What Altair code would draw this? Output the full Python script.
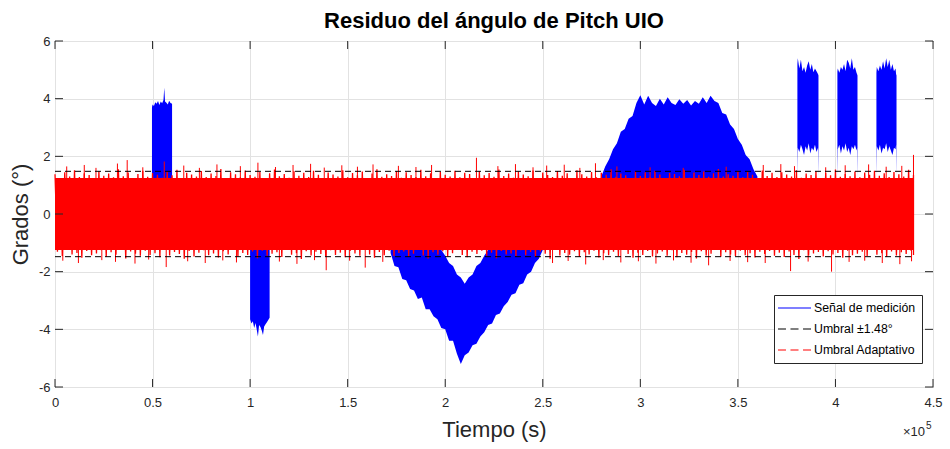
import altair as alt
import pandas as pd

# ---------------- data (time in units of 1e5 s, angle in degrees) ----------------
X_TICKS = [0, 0.5, 1, 1.5, 2, 2.5, 3, 3.5, 4, 4.5]
Y_TICKS = [-6, -4, -2, 0, 2, 4, 6]

TITLE = "Residuo del ángulo de Pitch UIO"
SERIES = ["Señal de medición", "Umbral ±1.48°", "Umbral Adaptativo"]
COLORS = ["#0000FF", "#000000", "#FF0000"]
LINE_SOLID = "M-2.75,0H2.75"
LINE_DASHED = "M-2.75,0H-1.42M-0.67,0H0.67M1.42,0H2.75"
LEGEND_SYMBOLS = [LINE_SOLID, LINE_DASHED, LINE_DASHED]

THRESH = [1.48, -1.48]
THRESH_START = 0.0
THRESH_END = 4.4

# dense (solid-looking) core of the adaptive threshold band
CORE_T = [0.0, 4.4]
CORE_HI = [1.25, 1.25]
CORE_LO = [-1.25, -1.25]

# adaptive threshold oscillation peaks, sampled every 0.025e5 s from 0 to 4.4e5 s
RED_STEP = 0.025
red_hi = [
    1.38, 1.22, 1.45, 1.30, 1.52, 1.28, 1.41, 1.35, 1.25, 1.48,
    1.33, 1.40, 1.27, 1.55, 1.31, 1.44, 1.24, 1.39, 1.50, 1.29,
    1.42, 1.36, 1.26, 1.47, 1.34, 1.53, 1.23, 1.43, 1.37, 1.30,
    1.49, 1.28, 1.40, 1.32, 1.56, 1.25, 1.45, 1.38, 1.27, 1.51,
    1.35, 1.29, 1.46, 1.24, 1.41, 1.54, 1.31, 1.39, 1.26, 1.48,
    1.33, 1.43, 1.28, 1.50, 1.36, 1.22, 1.44, 1.37, 1.30, 1.52,
    1.27, 1.42, 1.34, 1.47, 1.25, 1.40, 1.55, 1.29, 1.38, 1.32,
    1.49, 1.26, 1.45, 1.35, 1.28, 1.53, 1.31, 1.41, 1.24, 1.46,
    1.36, 1.30, 1.50, 1.27, 1.43, 1.39, 1.23, 1.48, 1.34, 1.42,
    1.29, 1.54, 1.32, 1.40, 1.26, 1.47, 1.37, 1.31, 1.51, 1.25,
    1.44, 1.35, 1.28, 1.49, 1.33, 1.41, 1.24, 1.52, 1.38, 1.30,
    1.46, 1.27, 1.43, 1.36, 1.55, 1.29, 1.40, 1.34, 1.25, 1.48,
    1.32, 1.45, 1.28, 1.50, 1.37, 1.23, 1.42, 1.39, 1.31, 1.53,
    1.26, 1.44, 1.35, 1.47, 1.29, 1.41, 1.56, 1.30, 1.38, 1.33,
    1.49, 1.27, 1.46, 1.36, 1.24, 1.51, 1.32, 1.43, 1.28, 1.45,
    1.37, 1.30, 1.52, 1.26, 1.40, 1.35, 1.48, 1.25, 1.42, 1.34,
    1.54, 1.29, 1.39, 1.31, 1.47, 1.27, 1.44, 1.36, 1.50, 1.33,
    1.41, 1.28, 1.46, 1.38, 1.30, 1.53, 1.35,
]
red_lo = [
    -1.31, -1.46, -1.24, -1.40, -1.35, -1.52, -1.28, -1.43, -1.37, -1.26,
    -1.49, -1.33, -1.41, -1.25, -1.54, -1.30, -1.38, -1.45, -1.27, -1.42,
    -1.36, -1.50, -1.23, -1.44, -1.32, -1.39, -1.55, -1.28, -1.47, -1.34,
    -1.26, -1.43, -1.37, -1.51, -1.29, -1.40, -1.24, -1.48, -1.35, -1.42,
    -1.30, -1.53, -1.27, -1.45, -1.38, -1.33, -1.49, -1.25, -1.41, -1.36,
    -1.56, -1.29, -1.44, -1.31, -1.39, -1.47, -1.26, -1.42, -1.34, -1.50,
    -1.28, -1.37, -1.45, -1.23, -1.40, -1.52, -1.32, -1.43, -1.27, -1.46,
    -1.35, -1.30, -1.48, -1.38, -1.25, -1.44, -1.54, -1.33, -1.41, -1.29,
    -1.47, -1.36, -1.24, -1.42, -1.50, -1.31, -1.39, -1.27, -1.45, -1.34,
    -1.53, -1.28, -1.40, -1.37, -1.46, -1.26, -1.43, -1.32, -1.49, -1.30,
    -1.38, -1.55, -1.25, -1.44, -1.35, -1.41, -1.29, -1.48, -1.33, -1.40,
    -1.27, -1.51, -1.36, -1.43, -1.31, -1.46, -1.24, -1.39, -1.52, -1.34,
    -1.42, -1.28, -1.47, -1.37, -1.30, -1.45, -1.26, -1.50, -1.35, -1.41,
    -1.32, -1.54, -1.29, -1.44, -1.38, -1.25, -1.48, -1.33, -1.40, -1.46,
    -1.27, -1.43, -1.36, -1.51, -1.31, -1.39, -1.28, -1.45, -1.34, -1.49,
    -1.30, -1.42, -1.56, -1.26, -1.44, -1.37, -1.32, -1.47, -1.29, -1.40,
    -1.35, -1.52, -1.27, -1.43, -1.38, -1.31, -1.46, -1.25, -1.41, -1.36,
    -1.48, -1.30, -1.44, -1.33, -1.39, -1.27, -1.42,
]

# isolated spikes of the adaptive threshold
spike_up_t = [0.06, 0.15, 0.21, 0.32, 0.37, 0.45, 0.56, 0.66, 0.74, 0.83,
              0.95, 1.04, 1.13, 1.22, 1.31, 1.38, 1.47, 1.55, 1.63, 1.76,
              1.85, 1.93, 2.16, 2.27, 2.36, 2.45, 2.52, 2.61, 2.69, 2.77,
              2.88, 3.05, 3.22, 3.44, 3.63, 3.72, 3.79, 3.95, 4.05, 4.17,
              4.26, 4.34, 4.40]
spike_up_v = [1.65, 1.70, 1.60, 1.75, 1.87, 1.62, 1.82, 1.68, 1.60, 1.72,
              1.66, 1.78, 1.63, 1.70, 1.74, 1.61, 1.69, 1.64, 1.72, 1.67,
              1.63, 1.70, 1.95, 1.66, 1.73, 1.62, 1.68, 1.71, 1.60, 1.76,
              1.65, 1.62, 1.60, 1.64, 1.70, 1.73, 1.66, 1.62, 1.69, 1.72,
              1.64, 1.67, 2.05]
spike_dn_t = [0.04, 0.12, 0.24, 0.31, 0.41, 0.48, 0.57, 0.68, 0.77, 0.86,
              0.93, 1.15, 1.24, 1.33, 1.39, 1.51, 1.59, 1.68, 2.55, 2.63,
              2.72, 2.81, 2.90, 2.99, 3.08, 3.17, 3.26, 3.35, 3.46, 3.55,
              3.64, 3.77, 3.86, 3.98, 4.07, 4.15, 4.24, 4.33, 4.39]
spike_dn_v = [-1.62, -1.70, -1.60, -1.66, -1.72, -1.58, -1.84, -1.64, -1.70, -1.61,
              -1.68, -1.65, -1.73, -1.60, -1.95, -1.62, -1.86, -1.66, -1.70, -1.63,
              -1.75, -1.60, -1.68, -1.64, -1.72, -1.61, -1.69, -1.78, -1.63, -1.67,
              -1.70, -1.98, -1.65, -2.00, -1.66, -1.62, -1.70, -1.74, -1.64]

# measurement signal: fault segments (envelope lower / upper)
A_t = [0.497, 0.500, 0.507, 0.514, 0.521, 0.528, 0.535, 0.542, 0.549, 0.556, 0.560, 0.564, 0.571, 0.578, 0.585, 0.592, 0.600]
A_lo = [1.25, 1.25, 1.25, 1.25, 1.25, 1.25, 1.25, 1.25, 1.25, 1.25, 1.25, 1.25, 1.25, 1.25, 1.25, 1.25, 1.25]
A_hi = [3.70, 3.80, 3.75, 3.88, 3.82, 3.92, 3.78, 3.90, 3.84, 3.95, 4.38, 3.90, 3.86, 3.80, 3.93, 3.85, 3.82]

B_t = [1.000, 1.007, 1.014, 1.021, 1.028, 1.035, 1.040, 1.046, 1.053, 1.060, 1.066, 1.072, 1.079, 1.086, 1.093, 1.100]
B_lo = [-3.65, -3.80, -3.72, -3.95, -3.78, -4.05, -4.25, -3.85, -3.92, -4.05, -4.20, -3.90, -3.82, -3.75, -3.68, -3.60]
B_hi = [-1.25, -1.25, -1.25, -1.25, -1.25, -1.25, -1.25, -1.25, -1.25, -1.25, -1.25, -1.25, -1.25, -1.25, -1.25, -1.25]

C_t = [1.72, 1.74, 1.76, 1.78, 1.80, 1.82, 1.84, 1.86, 1.88, 1.90,
       1.92, 1.94, 1.96, 1.98, 2.00, 2.02, 2.04, 2.06, 2.08, 2.10,
       2.12, 2.14, 2.16, 2.18, 2.20, 2.22, 2.24, 2.26, 2.28, 2.30,
       2.32, 2.34, 2.36, 2.38, 2.40, 2.42, 2.44, 2.46, 2.48, 2.50]
C_lo = [-1.35, -1.80, -1.85, -2.25, -2.30, -2.60, -2.65, -2.95, -2.90, -3.30,
        -3.30, -3.55, -3.65, -3.95, -4.00, -4.40, -4.40, -4.85, -5.20, -4.90,
        -4.80, -4.55, -4.50, -4.25, -4.10, -3.85, -3.80, -3.50, -3.45, -3.20,
        -3.05, -2.80, -2.75, -2.45, -2.40, -2.10, -2.00, -1.70, -1.55, -1.25]
C_hi = [-1.25, -1.25, -1.25, -1.25, -1.25, -1.25, -1.25, -1.25, -1.25, -1.25,
        -1.25, -1.25, -1.25, -1.25, -1.45, -1.70, -1.80, -2.10, -2.20, -2.42,
        -2.20, -2.10, -1.80, -1.70, -1.45, -1.25, -1.25, -1.25, -1.25, -1.25,
        -1.25, -1.25, -1.25, -1.25, -1.25, -1.25, -1.25, -1.25, -1.25, -1.25]

D_t = [2.80, 2.82, 2.84, 2.86, 2.88, 2.90, 2.92, 2.94, 2.96, 2.98,
       3.00, 3.02, 3.04, 3.06, 3.08, 3.10, 3.12, 3.14, 3.16, 3.18,
       3.20, 3.22, 3.24, 3.26, 3.28, 3.30, 3.32, 3.34, 3.36, 3.38,
       3.40, 3.42, 3.44, 3.46, 3.48, 3.50, 3.52, 3.54, 3.56, 3.58, 3.60]
D_lo = [1.25, 1.25, 1.25, 1.25, 1.25, 1.25, 1.25, 1.25, 1.25, 1.25,
        1.25, 1.25, 1.25, 1.25, 1.25, 1.25, 1.25, 1.25, 1.25, 1.25,
        1.25, 1.25, 1.25, 1.25, 1.25, 1.25, 1.25, 1.25, 1.25, 1.25,
        1.25, 1.25, 1.25, 1.25, 1.25, 1.25, 1.25, 1.25, 1.25, 1.25, 1.25]
D_hi = [1.30, 1.65, 1.90, 2.25, 2.45, 2.85, 2.95, 3.30, 3.40, 3.85,
        4.12, 3.80, 4.10, 3.85, 3.75, 4.00, 3.80, 4.05, 3.85, 3.78,
        3.98, 3.82, 3.95, 3.76, 3.92, 3.82, 4.05, 3.85, 4.10, 3.92,
        3.85, 3.50, 3.45, 3.10, 2.95, 2.60, 2.40, 2.05, 1.90, 1.55, 1.30]

E_t = [3.805, 3.807, 3.815, 3.823, 3.831, 3.839, 3.847, 3.855, 3.863, 3.871, 3.879, 3.887, 3.895, 3.903, 3.911, 3.913]
E_lo = [1.30, 2.30, 2.15, 2.40, 2.25, 2.05, 2.35, 2.20, 2.45, 2.10, 2.30, 2.20, 2.40, 2.15, 2.30, 1.30]
E_hi = [5.20, 5.40, 5.05, 5.35, 4.95, 5.10, 4.90, 5.15, 5.30, 5.00, 5.20, 4.92, 5.05, 4.95, 4.85, 4.80]

F_t = [4.010, 4.012, 4.020, 4.028, 4.036, 4.044, 4.052, 4.060, 4.068, 4.076, 4.084, 4.092, 4.100, 4.108, 4.111, 4.113]
F_lo = [1.30, 2.25, 2.40, 2.10, 2.35, 2.20, 2.45, 2.15, 2.30, 2.05, 2.35, 2.25, 2.40, 2.20, 2.30, 1.30]
F_hi = [4.95, 5.05, 4.90, 5.10, 5.00, 5.20, 4.95, 5.35, 5.25, 5.05, 5.40, 5.00, 5.10, 4.90, 4.85, 4.80]

G_t = [4.210, 4.212, 4.220, 4.228, 4.236, 4.244, 4.252, 4.260, 4.268, 4.276, 4.284, 4.292, 4.300, 4.308, 4.311, 4.313]
G_lo = [1.30, 2.35, 2.20, 2.40, 2.10, 2.30, 2.25, 2.45, 2.15, 2.35, 2.20, 2.05, 2.30, 2.25, 2.40, 1.30]
G_hi = [4.90, 5.10, 4.95, 5.15, 5.00, 5.30, 5.05, 5.40, 5.10, 5.35, 5.00, 5.20, 4.95, 5.05, 4.85, 4.80]

# ---------------- tables ----------------
blue_rows = []
for seg, (ts, los, his) in {"A": (A_t, A_lo, A_hi), "B": (B_t, B_lo, B_hi), "C": (C_t, C_lo, C_hi),
                            "D": (D_t, D_lo, D_hi), "E": (E_t, E_lo, E_hi), "F": (F_t, F_lo, F_hi),
                            "G": (G_t, G_lo, G_hi)}.items():
    for t, lo, hi in zip(ts, los, his):
        blue_rows.append({"seg": seg, "t": t, "lo": lo, "hi": hi})
blue_df = pd.DataFrame(blue_rows)

# oscillating threshold trace: each sample swings up to its peak, then down to its trough
red_rows = []
n_red = len(red_hi)
for i in range(n_red):
    t = round(i * RED_STEP, 4)
    red_rows.append({"t": t, "v": red_hi[i]})
    t_lo = t if i == n_red - 1 else round(t + RED_STEP / 2, 5)
    red_rows.append({"t": t_lo, "v": red_lo[i]})
red_line_df = pd.DataFrame(red_rows)

core_df = pd.DataFrame({"t": CORE_T, "lo": CORE_LO, "hi": CORE_HI})
spk_df = pd.DataFrame({"t": spike_up_t + spike_dn_t, "v": spike_up_v + spike_dn_v})
thr_df = pd.DataFrame({"v": THRESH, "t0": THRESH_START, "t1": THRESH_END})
# legend key markers sit at the centre of the band (hidden under it)
leg_df = pd.DataFrame({"serie": SERIES, "t": [2.0] * 3, "v": [0.0] * 3})
xt_df = pd.DataFrame({"xt": X_TICKS})
yt_df = pd.DataFrame({"yt": Y_TICKS})

# ---------------- chart ----------------
W, H = 878, 346
FONT = "Liberation Sans"
AXC = "#262626"

xs = alt.Scale(domain=[0, 4.5], nice=False, zero=False)
ys = alt.Scale(domain=[-6, 6], nice=False, zero=False)
x_axis = alt.Axis(title="Tiempo (s)", values=X_TICKS, labelExpr="'' + datum.value", grid=True,
                  ticks=False, domain=False, labelPadding=9, titlePadding=10, labelFlush=False)
y_axis = alt.Axis(title="Grados (°)", values=Y_TICKS, labelExpr="'' + datum.value", grid=True,
                  ticks=False, domain=False, labelPadding=5, titlePadding=6)


def X(f):
    return alt.X(f, type="quantitative", scale=xs, axis=x_axis)


def Y(f):
    return alt.Y(f, type="quantitative", scale=ys, axis=y_axis)


leg = alt.Legend(
    title=None, orient="none", legendX=719, legendY=254, fillColor="white",
    strokeColor=AXC, padding=6, rowPadding=7,
    symbolSize=144, symbolStrokeWidth=1.1, symbolOffset=7.5,
    labelFont=FONT, labelFontSize=12.3, labelColor="#000", labelOffset=12.5,
)

legend_layer = alt.Chart(leg_df).mark_point(filled=False, size=144, strokeWidth=1.1, opacity=1).encode(
    x=X("t"), y=Y("v"),
    color=alt.Color("serie:N", scale=alt.Scale(domain=SERIES, range=COLORS), legend=leg),
    shape=alt.Shape("serie:N", scale=alt.Scale(domain=SERIES, range=LEGEND_SYMBOLS), legend=leg),
)

blue = alt.Chart(blue_df).mark_area(color="#0000FF", opacity=1).encode(
    x=X("t"), y=Y("lo"), y2="hi", detail="seg:N")

red_core = alt.Chart(core_df).mark_area(color="#FF0000", opacity=1).encode(
    x=X("t"), y=Y("lo"), y2="hi")

red_line = alt.Chart(red_line_df).mark_line(color="#FF0000", strokeWidth=1.3).encode(
    x=X("t"), y=Y("v"))

red_spk = alt.Chart(spk_df).mark_rule(color="#FF0000", strokeWidth=1).encode(
    x=X("t"), y=Y("v"), y2=alt.datum(0))

thr = alt.Chart(thr_df).mark_rule(color="#000000", strokeWidth=1, strokeDash=[6, 4]).encode(
    x=X("t0"), x2="t1", y=Y("v"))

tk_b = alt.Chart(xt_df).mark_rule(color=AXC).encode(x=X("xt"), y=alt.value(H), y2=alt.value(H - 8))
tk_t = alt.Chart(xt_df).mark_rule(color=AXC).encode(x=X("xt"), y=alt.value(0), y2=alt.value(8))
tk_l = alt.Chart(yt_df).mark_rule(color=AXC).encode(y=Y("yt"), x=alt.value(0), x2=alt.value(8))
tk_r = alt.Chart(yt_df).mark_rule(color=AXC).encode(y=Y("yt"), x=alt.value(W), x2=alt.value(W - 8))

title_txt = alt.Chart(alt.Data(values=[{"txt": TITLE}])).mark_text(
    font=FONT, fontSize=22, fontWeight="bold", color="#000", align="center",
    baseline="alphabetic").encode(text="txt:N", x=alt.value(W / 2), y=alt.value(-13))

exp_a = alt.Chart(alt.Data(values=[{"txt": "×10"}])).mark_text(
    font=FONT, fontSize=13, color=AXC, align="left", baseline="alphabetic").encode(
    text="txt:N", x=alt.value(848), y=alt.value(395))
exp_b = alt.Chart(alt.Data(values=[{"txt": "5"}])).mark_text(
    font=FONT, fontSize=10, color=AXC, align="left", baseline="alphabetic").encode(
    text="txt:N", x=alt.value(871), y=alt.value(388))

chart = alt.layer(
    legend_layer, blue, red_core, red_line, red_spk, thr,
    tk_b, tk_t, tk_l, tk_r, title_txt, exp_a, exp_b
).properties(
    width=W, height=H,
    autosize=alt.AutoSizeParams(type="none"),
    padding={"left": 55, "top": 41, "right": 17, "bottom": 62},
).configure_view(
    stroke=AXC, strokeWidth=1
).configure_axis(
    labelFont=FONT, labelFontSize=13, labelColor=AXC, titleFont=FONT, titleFontSize=22,
    titleFontWeight="normal", titleColor=AXC, gridColor="#e2e2e2", gridWidth=1
)

chart.save("out.html", embed_options={"renderer": "svg", "actions": False})
